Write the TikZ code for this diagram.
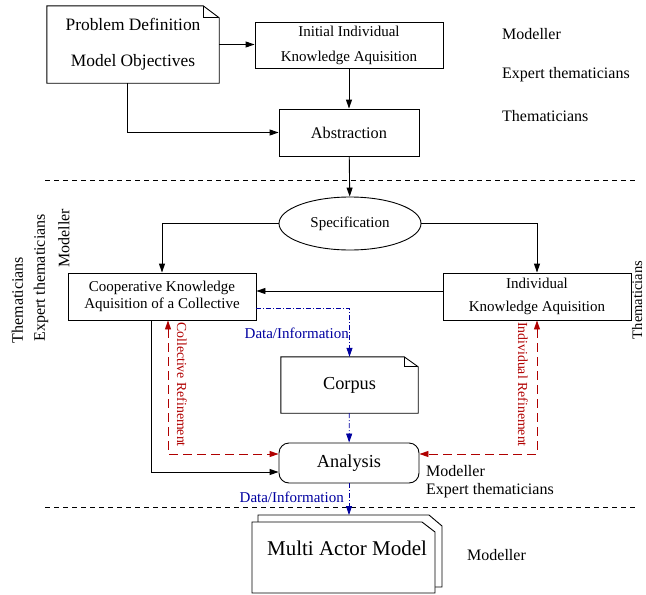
\documentclass[tikz,border=0pt]{standalone}
\usepackage{fontspec}
\setmainfont{Liberation Serif}
\usepackage{xcolor}
\usetikzlibrary{arrows.meta,positioning,shapes.geometric,calc}
\definecolor{refred}{RGB}{176,0,0}
\definecolor{infoblue}{RGB}{0,0,160}
\tikzset{
  box/.style={
    draw,
    rectangle,
    align=center,
    inner sep=0pt,
    line width=0.9pt
  },
  note/.style={
    rectangle,
    align=center,
    inner sep=0pt
  },
  actor/.style={
    inner sep=0pt,
    font=\fontsize{16}{18}\selectfont
  },
  outline/.style={line width=0.9pt, fill=white},
  arr/.style={-{Triangle[length=9pt,width=6pt]}, line width=0.9pt},
  info/.style={-{Triangle[length=9pt,width=6pt]}, line width=0.8pt, infoblue,
    dash pattern=on 5pt off 2pt on 1pt off 2pt},
  refine/.style={{Triangle[length=9pt,width=6pt]}-{Triangle[length=9pt,width=6pt]},
    line width=0.9pt, refred, dash pattern=on 9pt off 5pt},
  sep/.style={line width=0.8pt, dash pattern=on 5pt off 4pt}
}

\begin{document}
\begin{tikzpicture}[x=1pt,y=-1pt]
  \useasboundingbox (0,0) rectangle (646,595);

  % problem definition and first steps
  \node[note,font=\fontsize{17.4}{36}\selectfont,minimum width=172pt,minimum height=77pt] (pd) at (133,44.5) {Problem Definition\\Model Objectives};
  \node[box,font=\fontsize{15}{25}\selectfont,minimum width=188pt,minimum height=46pt] (init) at (349,45) {Initial Individual\\Knowledge Aquisition};
  \node[box,font=\fontsize{16.3}{18}\selectfont,minimum width=140pt,minimum height=47pt] (abs) at (349,132.5) {Abstraction};

  \node[actor,anchor=west] (modtop) at (502,34) {Modeller};
  \node[actor,anchor=west] (exptop) at (502,75) {Expert thematicians};
  \node[actor,anchor=west] (thetop) at (502,116) {Thematicians};

  % knowledge aquisition
  \node[ellipse,draw,line width=0.9pt,inner sep=0pt,minimum width=142pt,minimum height=53pt,font=\fontsize{15}{17}\selectfont] (spec) at (350,223.5) {Specification};
  \node[box,font=\fontsize{15}{17}\selectfont,minimum width=188pt,minimum height=47pt] (coop) at (162,296.5) {Cooperative Knowledge\\Aquisition of a Collective};
  \node[box,font=\fontsize{15}{23}\selectfont,minimum width=188pt,minimum height=47pt] (ind) at (537,296.5) {Individual\\Knowledge Aquisition};
  \node[note,font=\fontsize{18.3}{20}\selectfont,minimum width=137pt,minimum height=56pt] (corpus) at (349.5,385) {Corpus};
  \node[box,rounded corners=10pt,font=\fontsize{18.3}{20}\selectfont,minimum width=140pt,minimum height=40pt] (ana) at (349,463) {Analysis};

  \node[actor,rotate=90] (thelft) at (17.5,300) {Thematicians};
  \node[actor,rotate=90] (explft) at (41,278) {Expert thematicians};
  \node[actor,rotate=90] (modlft) at (64,238) {Modeller};
  \node[actor,rotate=90,anchor=south,font=\fontsize{14.5}{17}\selectfont] (thergt) at (642.5,300) {Thematicians};

  \node[actor,anchor=west] (modana) at (426,471) {Modeller};
  \node[actor,anchor=west] (expana) at (426,491) {Expert thematicians};

  % multi actor model
  \draw[outline] (258,587) -- (258,515) -- (429,515) -- (442,526) -- (442,587) -- cycle;
  \draw[outline] (252,593) -- (252,522) -- (422,522) -- (435,532) -- (435,593) -- cycle;
  \node[inner sep=0pt,font=\fontsize{21}{24}\selectfont] (mam) at (347,548) {Multi Actor Model};
  \coordinate (mamtop) at (349,515);
  \node[actor,anchor=west] (modmam) at (467,555) {Modeller};

  % dog-eared notes
  \foreach \n/\w/\h in {pd/16/12,corpus/14/10} {
    \draw[line width=0.9pt] (\n.south west) -- (\n.north west) -- ($(\n.north east)+(-\w,0)$)
      -- ($(\n.north east)+(0,\h)$) -- (\n.south east) -- cycle;
    \draw[line width=0.7pt] ($(\n.north east)+(-\w,0)$) -- ++(0,\h) -- ++(\w,0);
  }

  % separators
  \draw[sep] (45,180) -- (636,180);
  \draw[sep] (45,507) -- (636,507);

  % connectors
  \draw[arr] (pd.east) -- (pd.east -| init.west);
  \draw[arr] (init) -- (abs);
  \draw[arr] ([xshift=-6pt]pd.south) |- (abs.west);
  \draw[arr] (abs) -- (spec);
  \draw[arr] (spec.west) -| (coop.north);
  \draw[arr] (spec.east) -| (ind.north);
  \draw[arr] (ind.west) ++(0,-5.5) coordinate (indout) -- (indout -| coop.east);
  \draw[info] (coop.east) ++(0,11.5) -| (corpus.north);
  \node[inner sep=0pt,anchor=east,text=infoblue,font=\fontsize{15}{17}\selectfont] (data1) at (349,333) {Data/Information};
  \draw[info] (corpus) -- (ana);
  \draw[arr] ([xshift=-11pt]coop.south) |- ($(ana.west)+(0,9)$);
  \draw[refine] ([xshift=6pt]coop.south) |- ($(ana.west)+(0,-9)$);
  \draw[refine] (ind.south) |- ($(ana.east)+(0,-9)$);
  \node[inner sep=0pt,rotate=-90,text=refred,font=\fontsize{13.8}{16}\selectfont] (colref) at (182,384.5) {Collective Refinement};
  \node[inner sep=0pt,rotate=-90,text=refred,font=\fontsize{13.8}{16}\selectfont] (indref) at (523,384.5) {Individual Refinement};
  \draw[info] (ana) -- (mamtop);
  \node[inner sep=0pt,anchor=east,text=infoblue,font=\fontsize{15}{17}\selectfont] (data2) at (344,497) {Data/Information};
\end{tikzpicture}
\end{document}
